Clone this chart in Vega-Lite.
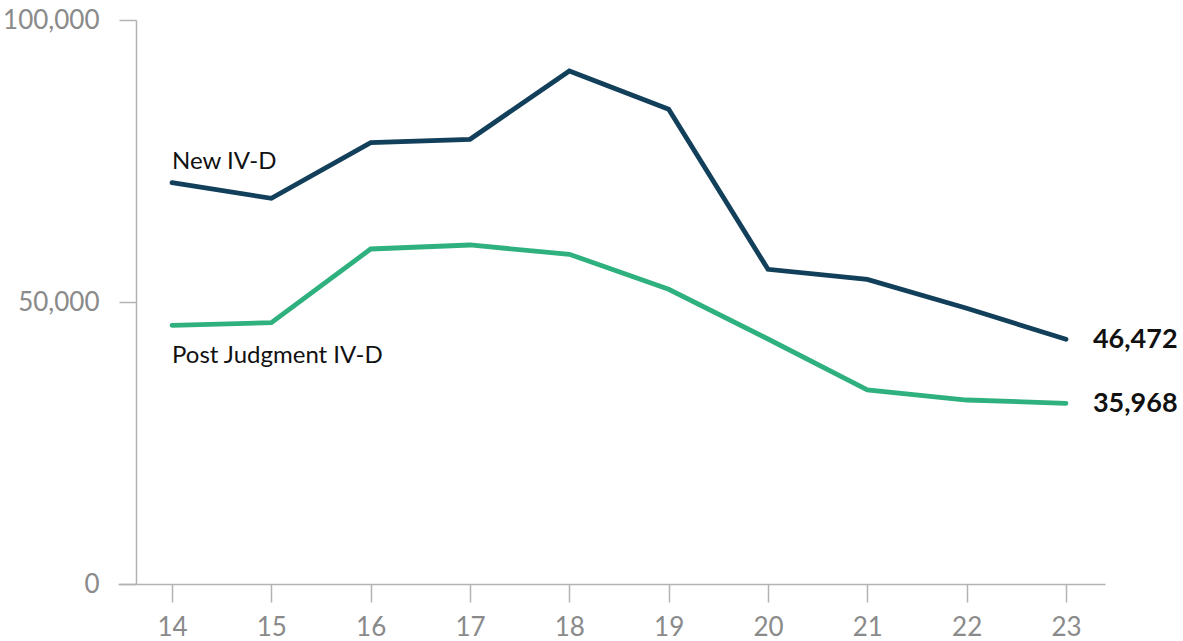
{
  "$schema": "https://vega.github.io/schema/vega-lite/v6.json",
  "width": 987,
  "height": 564,
  "autosize": {"type": "none"},
  "padding": {"left": 118, "top": 20, "right": 78, "bottom": 57},
  "background": "white",
  "config": {"view": {"stroke": null}, "font": "Lato"},
  "data": {
    "values": [
      {"year": 14, "series": "New IV-D", "value": 71150},
      {"year": 15, "series": "New IV-D", "value": 68390},
      {"year": 16, "series": "New IV-D", "value": 78240},
      {"year": 17, "series": "New IV-D", "value": 78850},
      {"year": 18, "series": "New IV-D", "value": 90960},
      {"year": 19, "series": "New IV-D", "value": 84170},
      {"year": 20, "series": "New IV-D", "value": 55800},
      {"year": 21, "series": "New IV-D", "value": 54020},
      {"year": 22, "series": "New IV-D", "value": 48880},
      {"year": 23, "series": "New IV-D", "value": 43390, "label": "46,472"},
      {"year": 14, "series": "Post Judgment IV-D", "value": 45870},
      {"year": 15, "series": "Post Judgment IV-D", "value": 46330},
      {"year": 16, "series": "Post Judgment IV-D", "value": 59400},
      {"year": 17, "series": "Post Judgment IV-D", "value": 60110},
      {"year": 18, "series": "Post Judgment IV-D", "value": 58460},
      {"year": 19, "series": "Post Judgment IV-D", "value": 52250},
      {"year": 20, "series": "Post Judgment IV-D", "value": 43440},
      {"year": 21, "series": "Post Judgment IV-D", "value": 34400},
      {"year": 22, "series": "Post Judgment IV-D", "value": 32620},
      {"year": 23, "series": "Post Judgment IV-D", "value": 32040, "label": "35,968"}
    ]
  },
  "encoding": {
    "x": {
      "field": "year",
      "type": "quantitative",
      "scale": {"domain": [13.456, 23.393], "nice": false, "zero": false},
      "axis": {
        "values": [14, 15, 16, 17, 18, 19, 20, 21, 22, 23],
        "format": "d",
        "title": null,
        "grid": false,
        "tickSize": 18,
        "labelPadding": 12,
        "labelFontSize": 26,
        "labelFont": "Lato",
        "labelColor": "#8a8a8a",
        "labelFlush": false,
        "labelOverlap": false,
        "domainColor": "#b3b3b3",
        "domainWidth": 1.5,
        "tickColor": "#b3b3b3",
        "tickWidth": 1.5
      }
    },
    "y": {
      "field": "value",
      "type": "quantitative",
      "scale": {"domain": [0, 100000], "nice": false},
      "axis": {
        "values": [0, 50000, 100000],
        "format": ",.0f",
        "title": null,
        "grid": false,
        "offset": -18,
        "tickSize": 17,
        "labelPadding": 20,
        "labelFontSize": 26,
        "labelFont": "Lato",
        "labelColor": "#8a8a8a",
        "labelFlush": false,
        "labelOverlap": false,
        "domainColor": "#b3b3b3",
        "domainWidth": 1.5,
        "tickColor": "#b3b3b3",
        "tickWidth": 1.5
      }
    },
    "color": {
      "field": "series",
      "type": "nominal",
      "scale": {"domain": ["New IV-D", "Post Judgment IV-D"], "range": ["#123f5a", "#2fb07f"]},
      "legend": null
    }
  },
  "layer": [
    {"mark": {"type": "line", "strokeWidth": 4.8, "strokeCap": "round"}},
    {
      "transform": [{"filter": "datum.year == 23"}],
      "mark": {"type": "text", "align": "left", "baseline": "middle", "dx": 27, "dy": 1, "fontSize": 27, "fontWeight": "bold", "font": "Lato"},
      "encoding": {"text": {"field": "label"}, "color": {"value": "#111111"}}
    },
    {
      "transform": [{"filter": "datum.year == 14 && datum.series == 'New IV-D'"}],
      "mark": {"type": "text", "align": "left", "baseline": "alphabetic", "dy": -14, "fontSize": 24, "font": "Lato"},
      "encoding": {"text": {"field": "series"}, "color": {"value": "#111111"}}
    },
    {
      "transform": [{"filter": "datum.year == 14 && datum.series == 'Post Judgment IV-D'"}],
      "mark": {"type": "text", "align": "left", "baseline": "alphabetic", "dy": 38, "fontSize": 24, "font": "Lato"},
      "encoding": {"text": {"field": "series"}, "color": {"value": "#111111"}}
    }
  ]
}
